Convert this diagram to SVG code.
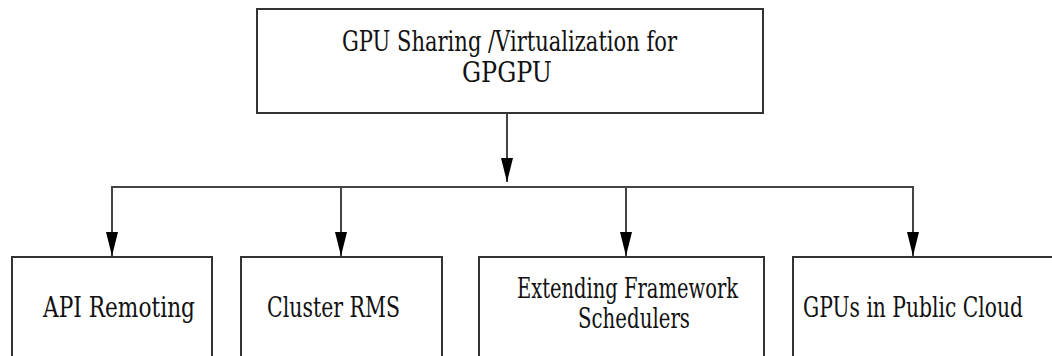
<svg xmlns="http://www.w3.org/2000/svg" width="1052" height="356" viewBox="0 0 1052 356">
<style>
.box{fill:#fff;stroke:#333;stroke-width:2}
.lbl{font-family:'DejaVu Serif',serif;font-size:27px;fill:#111;text-anchor:middle}
.con{fill:none;stroke:#444;stroke-width:2}
</style>
<defs>
<marker id="arr" markerWidth="24" markerHeight="12" refX="24" refY="6" orient="auto" markerUnits="userSpaceOnUse" viewBox="0 0 24 12">
<path d="M0,0 L24,6 L0,12 Z" fill="#000"/>
</marker>
</defs>
<rect width="1052" height="356" fill="#fff"/>
<g id="root">
<rect class="box" x="257" y="9" width="506" height="104"/>
<text class="lbl" x="509.5" y="51" textLength="335" lengthAdjust="spacingAndGlyphs">GPU Sharing /Virtualization for</text>
<text class="lbl" x="507" y="82" textLength="90" lengthAdjust="spacingAndGlyphs">GPGPU</text>
</g>
<g id="api">
<rect class="box" x="12" y="257" width="200" height="120"/>
<text class="lbl" x="119" y="317" textLength="152" lengthAdjust="spacingAndGlyphs">API Remoting</text>
</g>
<g id="cluster">
<rect class="box" x="241" y="257" width="201" height="120"/>
<text class="lbl" x="333.5" y="317" textLength="133" lengthAdjust="spacingAndGlyphs">Cluster RMS</text>
</g>
<g id="framework">
<rect class="box" x="479" y="257" width="285" height="120"/>
<text class="lbl" x="627.5" y="298" textLength="221" lengthAdjust="spacingAndGlyphs">Extending Framework</text>
<text class="lbl" x="634" y="328" textLength="112" lengthAdjust="spacingAndGlyphs">Schedulers</text>
</g>
<g id="cloud">
<rect class="box" x="793" y="257" width="280" height="120"/>
<text class="lbl" x="913" y="317" textLength="220" lengthAdjust="spacingAndGlyphs">GPUs in Public Cloud</text>
</g>
<g id="connectors">
<line class="con" x1="507" y1="113" x2="507" y2="182" marker-end="url(#arr)"/>
<line class="con" x1="112" y1="187" x2="913" y2="187"/>
<line class="con" x1="112" y1="186" x2="112" y2="256" marker-end="url(#arr)"/>
<line class="con" x1="341" y1="187" x2="341" y2="256" marker-end="url(#arr)"/>
<line class="con" x1="626" y1="187" x2="626" y2="256" marker-end="url(#arr)"/>
<line class="con" x1="913" y1="186" x2="913" y2="256" marker-end="url(#arr)"/>
</g>
</svg>
